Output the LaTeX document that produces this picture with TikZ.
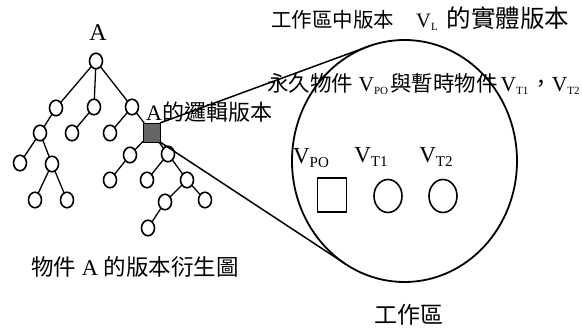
\documentclass[tikz,border=0pt]{standalone}
\usepackage{fontspec}
\usepackage{graphicx}
\setmainfont{Liberation Serif}
\newfontfamily\cjk{Noto Sans CJK TC}
\usetikzlibrary{shapes.geometric}
\newcommand\mysub[1]{\raisebox{-0.3ex}{\fontsize{11}{11}\selectfont #1}}
\tikzset{
  x=1pt, y=-1pt,
  tnode/.style={ellipse, draw, line width=1.6pt, minimum width=13pt, minimum height=15.5pt, inner sep=0pt, outer sep=0pt},
  sqnode/.style={rectangle, draw, line width=0.8pt, fill=black!60, minimum width=17pt, minimum height=19pt, inner sep=0pt, outer sep=0pt},
  tedge/.style={line width=1.3pt},
  tang/.style={line width=1.5pt},
  lbl/.style={inner sep=0pt, font=\fontsize{21}{21}\selectfont},
  vlbl/.style={inner sep=0pt, font=\fontsize{23}{23}\selectfont},
  objsq/.style={rectangle, draw, line width=1.6pt, minimum width=29pt, minimum height=34pt, inner sep=0pt},
  objci/.style={ellipse, draw, line width=1.6pt, minimum width=28pt, minimum height=33pt, inner sep=0pt},
}
\begin{document}
\begin{tikzpicture}
\useasboundingbox (0,0) rectangle (582,328);
% tree
\node[tnode] (r) at (96,61) {};
\node[tnode] (a1) at (56,108) {};
\node[tnode] (a2) at (94,107) {};
\node[tnode] (a3) at (132,107) {};
\node[tnode] (b1) at (40,133) {};
\node[tnode] (b2) at (72,133) {};
\node[tnode] (b3) at (110,133) {};
\node[sqnode] (sq) at (151.5,132.5) {};
\node[tnode] (c1) at (20,163) {};
\node[tnode] (c2) at (52,164) {};
\node[tnode] (d1) at (35,200) {};
\node[tnode] (d2) at (67,200) {};
\node[tnode] (e1) at (130,155) {};
\node[tnode] (e2) at (168,154) {};
\node[tnode] (f1) at (110,180) {};
\node[tnode] (f2) at (147,180) {};
\node[tnode] (f3) at (187,180) {};
\node[tnode] (g1) at (165,202) {};
\node[tnode] (g2) at (205,200) {};
\node[tnode] (h1) at (148,228) {};
\draw[tedge] (r) -- (a1);
\draw[tedge] (r) -- (a2);
\draw[tedge] (r) -- (a3);
\draw[tedge] (a1) -- (b1);
\draw[tedge] (a2) -- (b2);
\draw[tedge] (a3) -- (b3);
\draw[tedge] (a3) -- (sq);
\draw[tedge] (b1) -- (c1);
\draw[tedge] (b1) -- (c2);
\draw[tedge] (c2) -- (d1);
\draw[tedge] (c2) -- (d2);
\draw[tedge] (sq) -- (e1);
\draw[tedge] (sq) -- (e2);
\draw[tedge] (e1) -- (f1);
\draw[tedge] (e2) -- (f2);
\draw[tedge] (e2) -- (f3);
\draw[tedge] (f3) -- (g1);
\draw[tedge] (f3) -- (g2);
\draw[tedge] (g1) -- (h1);
% labels of tree
\node[inner sep=0pt, font=\fontsize{24}{24}\selectfont] (ta) at (98,33) {A};
\node[lbl, anchor=west, font=\fontsize{22}{22}\selectfont] (tlog) at (146,112) {A{\cjk 的邏輯版本}};
\node[lbl, font=\fontsize{22.5}{22.5}\selectfont] (ttree) at (135,267) {{\cjk 物件} A {\cjk 的版本衍生圖}};
% workspace
\node[ellipse, draw, line width=1.8pt, minimum width=225pt, minimum height=242pt, inner sep=0pt, outer sep=0pt] (ws) at (404.5,161) {};
\draw[tang] (sq.north east) -- (ws.107.7);
\draw[tang] (sq.south east) -- (ws.240.6);
\node[lbl, anchor=west, font=\fontsize{20.5}{20.5}\selectfont] (ttop) at (271,19) {{\cjk 工作區中版本}\hspace{22pt}V\mysub{L}\hspace{9pt}{\fontsize{24.5}{24.5}\selectfont\cjk 的實體版本}};
\node[lbl, anchor=west, font=\fontsize{21.5}{21.5}\selectfont] (tsec) at (267,84) {{\cjk 永久物件} V\mysub{PO}\hspace{2pt}{\cjk 與暫時物件}\hspace{3pt}V\mysub{T1}\hspace{2pt}{\cjk ，}V\mysub{T2}};
\node[lbl, font=\fontsize{23}{23}\selectfont] (tws) at (409,315) {\cjk 工作區};
% objects
\node[vlbl] (vpo) at (311,158) {V\raisebox{-0.35ex}{\fontsize{15}{15}\selectfont PO}};
\node[vlbl] (vt1) at (371,157) {V\raisebox{-0.35ex}{\fontsize{15}{15}\selectfont T1}};
\node[vlbl] (vt2) at (436,157) {V\raisebox{-0.35ex}{\fontsize{15}{15}\selectfont T2}};
\node[objsq] (opo) at (332,195) {};
\node[objci] (ot1) at (388,196) {};
\node[objci] (ot2) at (443,196) {};
\end{tikzpicture}
\end{document}
